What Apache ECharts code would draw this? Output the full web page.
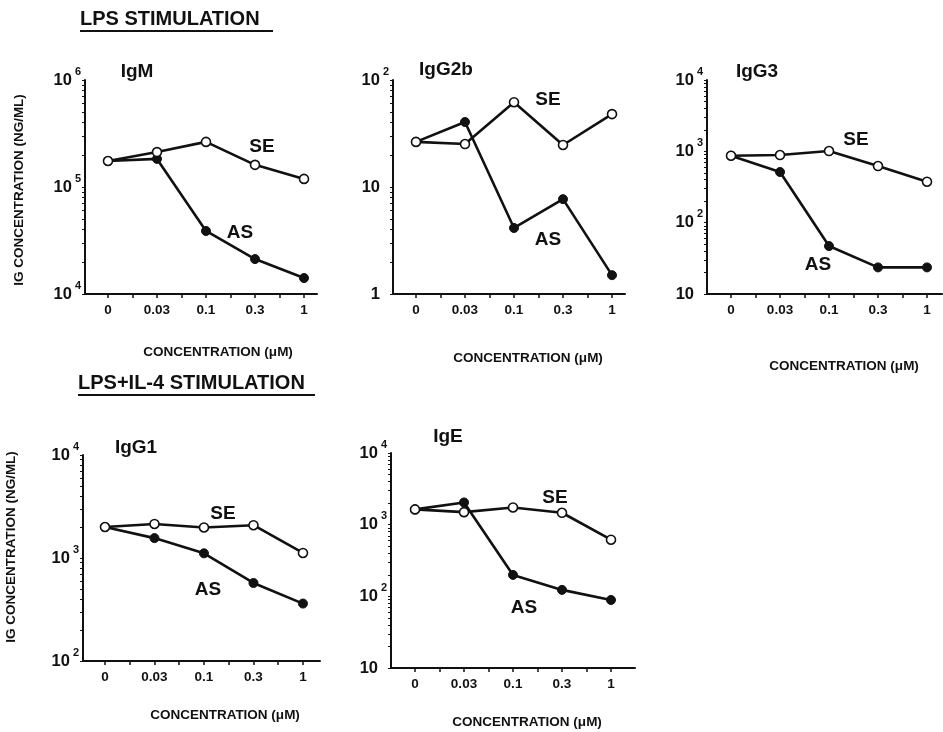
<!DOCTYPE html>
<html><head><meta charset="utf-8">
<script src="https://cdn.jsdelivr.net/npm/echarts@6/dist/echarts.min.js"></script>
<style>html,body{margin:0;padding:0;background:#fff}#c{width:943px;height:732px}</style>
</head><body><div id="c"></div>
<script>
// ---- data ----
const xLabels = ['0', '0.03', '0.1', '0.3', '1'];
const panelNames = ['IgM', 'IgG2b', 'IgG3', 'IgG1', 'IgE'];
const seriesNames = ['SE', 'AS'];
const sectionTitles = ['LPS STIMULATION', 'LPS+IL-4 STIMULATION'];
const xAxisTitle = 'CONCENTRATION (\u03BCM)';
const yAxisTitle = 'IG CONCENTRATION (NG/ML)';

const igmSE   = [175000, 212000, 264000, 161000, 119000];
const igmAS   = [175000, 183000, 38800, 21200, 14100];
const igg2bSE = [26.4, 25.2, 62, 24.7, 48];
const igg2bAS = [26.4, 40.5, 4.14, 7.7, 1.5];
const igg3SE  = [869, 888, 1009, 622, 375];
const igg3AS  = [869, 513, 47, 23.6, 23.6];
const igg1SE  = [2000, 2140, 1980, 2080, 1120];
const igg1AS  = [2000, 1560, 1110, 572, 361];
const igeSE   = [1633, 1496, 1738, 1466, 617];
const igeAS   = [1633, 2042, 199, 123, 89];

const yMin = [1e4, 1, 10, 100, 10];
const yMax = [1e6, 100, 1e4, 1e4, 1e4];

const seData = [igmSE, igg2bSE, igg3SE, igg1SE, igeSE];
const asData = [igmAS, igg2bAS, igg3AS, igg1AS, igeAS];

// ---- layout (pixels) ----
const layout = [
  {left: 85,  top: 80,  width: 232, height: 214, xmin: -0.469, xmax: 4.265, name: [137, 72],  se: [262, 147], as: [240, 233], xname: [218, 352], yname: [19, 190]},
  {left: 393, top: 80,  width: 232, height: 214, xmin: -0.469, xmax: 4.265, name: [446, 70],  se: [548, 100], as: [548, 240], xname: [528, 358]},
  {left: 707, top: 80,  width: 235, height: 214, xmin: -0.49,  xmax: 4.306, name: [757, 72],  se: [856, 140], as: [818, 265], xname: [844, 366]},
  {left: 83,  top: 455, width: 237, height: 206, xmin: -0.444, xmax: 4.344, name: [136, 448], se: [223, 514], as: [208, 590], xname: [225, 715], yname: [11, 547]},
  {left: 391, top: 453, width: 244, height: 215, xmin: -0.49,  xmax: 4.49,  name: [448, 437], se: [555, 498], as: [524, 608], xname: [527, 722]}
];
const titleLayout = [
  {x: 80, y: 19, ux1: 80, ux2: 273, uy: 31},
  {x: 78, y: 383, ux1: 78, ux2: 315, uy: 395}
];

const INK = '#111';
const FONT = '"Liberation Sans", Arial, Helvetica, sans-serif';

function logTicks(lo, hi) {
  const out = [];
  for (let d = lo; d < hi * 0.999; d *= 10) {
    for (let k = 1; k <= 9; k++) out.push(d * k);
  }
  out.push(hi);
  return out;
}
function expLabel(v) {
  const e = Math.round(Math.log10(v));
  if (e === 0) return '{b|1}{p| }';
  if (e === 1) return '{b|10}{p| }';
  return '{b|10}{s|' + e + '}';
}
const rich = {
  b: {fontSize: 16.5, fontWeight: 'bold', fontFamily: FONT, color: INK, lineHeight: 28, verticalAlign: 'middle'},
  s: {fontSize: 11, fontWeight: 'bold', fontFamily: FONT, color: INK, lineHeight: 12, verticalAlign: 'top', padding: [0, 0, 0, 3]},
  p: {fontSize: 11, width: 9}
};

const grids = [], xAxes = [], yAxes = [], series = [], graphics = [];
layout.forEach((L, i) => {
  grids.push({left: L.left, top: L.top, width: L.width, height: L.height});
  xAxes.push({
    type: 'value', gridIndex: i, min: L.xmin, max: L.xmax,
    axisLine: {show: true, onZero: false, lineStyle: {color: INK, width: 2}},
    splitLine: {show: false},
    axisTick: {show: true, length: 4, customValues: [0, 0.5, 1, 1.5, 2, 2.5, 3, 3.5, 4], lineStyle: {color: INK, width: 1.5}},
    axisLabel: {customValues: [0, 1, 2, 3, 4], formatter: v => xLabels[Math.round(v)], margin: 9,
      fontSize: 13.5, fontWeight: 'bold', color: INK, fontFamily: FONT}
  });
  yAxes.push({
    type: 'log', logBase: 10, gridIndex: i, min: yMin[i], max: yMax[i],
    axisLine: {show: true, onZero: false, lineStyle: {color: INK, width: 2}},
    splitLine: {show: false},
    axisTick: {show: true, length: 3, customValues: logTicks(yMin[i], yMax[i]), lineStyle: {color: INK, width: 1}},
    axisLabel: {formatter: expLabel, margin: 4, rich: rich}
  });
  series.push({
    type: 'line', name: seriesNames[1], xAxisIndex: i, yAxisIndex: i,
    data: asData[i].map((v, j) => [j, v]),
    symbol: 'circle', symbolSize: 9, showSymbol: true,
    lineStyle: {color: INK, width: 2.6}, itemStyle: {color: INK, borderColor: INK, borderWidth: 1}, z: 2
  });
  series.push({
    type: 'line', name: seriesNames[0], xAxisIndex: i, yAxisIndex: i,
    data: seData[i].map((v, j) => [j, v]),
    symbol: 'circle', symbolSize: 9, showSymbol: true,
    lineStyle: {color: INK, width: 2.6}, itemStyle: {color: '#fff', borderColor: INK, borderWidth: 1.6}, z: 3
  });
  const t = (x, y, text, size, extra) => Object.assign({
    type: 'text', x: x, y: y,
    style: {text: text, fontSize: size, fontWeight: 'bold', fontFamily: FONT, fill: INK, align: 'center', verticalAlign: 'middle'}
  }, extra || {});
  graphics.push(t(L.name[0], L.name[1], panelNames[i], 19));
  graphics.push(t(L.se[0], L.se[1], seriesNames[0], 19));
  graphics.push(t(L.as[0], L.as[1], seriesNames[1], 19));
  graphics.push(t(L.xname[0], L.xname[1], xAxisTitle, 13.5));
  if (L.yname) graphics.push(t(L.yname[0], L.yname[1], yAxisTitle, 13.5, {rotation: Math.PI / 2}));
});
titleLayout.forEach((T, k) => {
  graphics.push({type: 'text', x: T.x, y: T.y,
    style: {text: sectionTitles[k], fontSize: 20, fontWeight: 'bold', fontFamily: FONT, fill: INK, align: 'left', verticalAlign: 'middle'}});
  graphics.push({type: 'line', shape: {x1: T.ux1, y1: T.uy, x2: T.ux2, y2: T.uy}, style: {stroke: INK, lineWidth: 2}});
});

const chart = echarts.init(document.getElementById('c'), null, {renderer: 'canvas'});
chart.setOption({
  backgroundColor: '#fff',
  animation: false,
  grid: grids, xAxis: xAxes, yAxis: yAxes, series: series,
  graphic: graphics
});
</script></body></html>
